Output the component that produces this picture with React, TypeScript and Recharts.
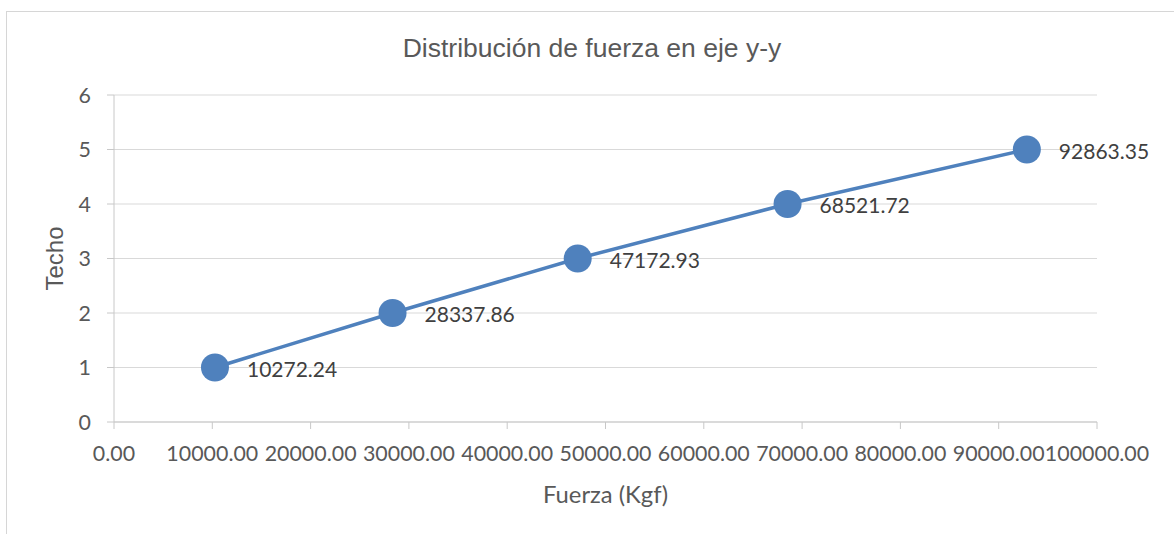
import React from 'react';
import { LineChart, Line, XAxis, YAxis, CartesianGrid, LabelList } from 'recharts';

// Fuerza (Kgf) acumulada por techo, dirección y-y
const fuerza = [10272.24, 28337.86, 47172.93, 68521.72, 92863.35];
const techo = [1, 2, 3, 4, 5];
const xTicks = [0, 10000, 20000, 30000, 40000, 50000, 60000, 70000, 80000, 90000, 100000];
const yTicks = [0, 1, 2, 3, 4, 5, 6];

const data = fuerza.map((f, i) => ({ fuerza: f, techo: techo[i] }));

const FONT = 'Lato, "Open Sans", sans-serif';
const TITLE_FONT = '"Liberation Sans", Arial, sans-serif';
const SERIES = '#4f81bd';
const AXIS_TEXT = '#595959';

const ValueLabel = (props: any) => {
  const { x, y, value } = props;
  return (
    <text x={x + 32} y={y} dy={9} fill="#404040" fontSize={21} fontFamily={FONT} textAnchor="start">
      {Number(value).toFixed(2)}
    </text>
  );
};

export default function App() {
  return (
    <div style={{ position: 'absolute', left: 0, top: 0, width: 1174, height: 534, overflow: 'hidden', background: '#fff' }}>
      <div style={{ position: 'absolute', left: 6, top: 11, width: 1200, height: 560, border: '1px solid #d6d6d6', boxSizing: 'border-box' }} />
      <div style={{ position: 'absolute', left: 0, top: 0 }}>
        <LineChart width={1174} height={534} data={data} margin={{ top: 95, right: 77, bottom: 82, left: 54 }}>
          <CartesianGrid horizontal vertical={false} stroke="#d9d9d9" strokeWidth={1} />
          <XAxis
            dataKey="fuerza"
            type="number"
            domain={[0, 100000]}
            ticks={xTicks}
            interval={0}
            height={30}
            tickFormatter={(v: number) => v.toFixed(2)}
            stroke="#c8c8c8"
            tickSize={7}
            tickMargin={17}
            tick={{ fill: AXIS_TEXT, fontSize: 21.4, fontFamily: FONT }}
          />
          <YAxis
            dataKey="techo"
            type="number"
            domain={[0, 6]}
            ticks={yTicks}
            interval={0}
            width={60}
            stroke="#c8c8c8"
            tickSize={7}
            tickMargin={16}
            tick={{ fill: AXIS_TEXT, fontSize: 21.4, fontFamily: FONT }}
          />
          <Line
            dataKey="techo"
            stroke={SERIES}
            strokeWidth={3.5}
            dot={{ r: 14, fill: SERIES, stroke: 'none' }}
            activeDot={false}
            isAnimationActive={false}
          >
            <LabelList dataKey="fuerza" content={<ValueLabel />} />
          </Line>
        </LineChart>
      </div>
      <svg width={1174} height={534} style={{ position: 'absolute', left: 0, top: 0, pointerEvents: 'none' }}>
        <text x={592} y={57} textAnchor="middle" fontFamily={TITLE_FONT} fontSize={26.5} fill={AXIS_TEXT}>
          Distribución de fuerza en eje y-y
        </text>
        <text x={63} y={258.5} transform="rotate(-90 63 258.5)" textAnchor="middle" fontFamily={TITLE_FONT} fontSize={24} fill={AXIS_TEXT}>
          Techo
        </text>
        <text x={605.5} y={503} textAnchor="middle" fontFamily={FONT} fontSize={23.8} fill={AXIS_TEXT}>
          Fuerza (Kgf)
        </text>
      </svg>
    </div>
  );
}
